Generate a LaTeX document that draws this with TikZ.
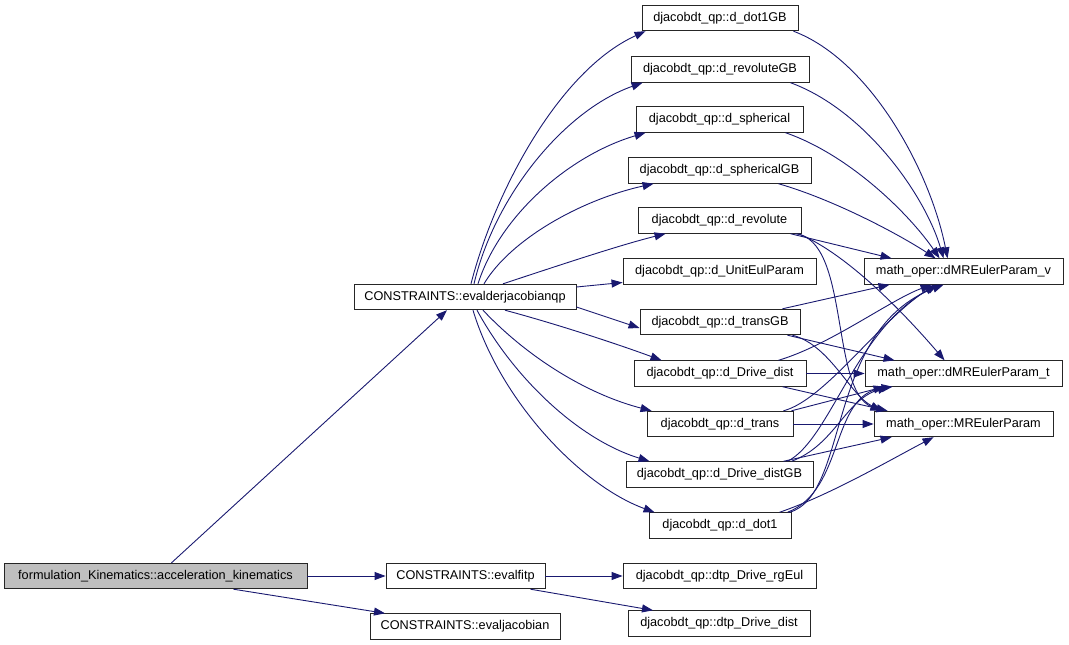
\documentclass[tikz,border=0pt]{standalone}
\usepackage{fontspec}
\setmainfont{Liberation Sans}
\usetikzlibrary{arrows.meta}
\definecolor{edgeblue}{HTML}{191970}
\definecolor{accgray}{HTML}{BFBFBF}
\tikzset{
  fn/.style={draw=black!85, line width=0.9pt, fill=white, inner sep=0pt,
    minimum height=25.5pt, font=\fontsize{12.7}{15}\selectfont},
  e/.style={draw=edgeblue, line width=0.9pt, -{Triangle[length=11pt,width=8pt]}}
}
\begin{document}
\begin{tikzpicture}[x=1pt,y=-1pt]
\useasboundingbox (0,0) rectangle (1069,645);
% nodes
\node[fn, fill=accgray, minimum width=303pt] (acc) at (155.5,576) {formulation\_Kinematics::acceleration\_kinematics};
\node[fn, minimum width=159pt] (evalfitp) at (465.5,576) {CONSTRAINTS::evalfitp};
\node[fn, minimum width=190pt] (evaljac) at (465,626.5) {CONSTRAINTS::evaljacobian};
\node[fn, minimum width=222pt] (evalder) at (465,297) {CONSTRAINTS::evalderjacobianqp};
\node[fn, minimum width=156pt] (dot1GB) at (720,18) {djacobdt\_qp::d\_dot1GB};
\node[fn, minimum width=178pt] (revGB) at (720,69.5) {djacobdt\_qp::d\_revoluteGB};
\node[fn, minimum width=167pt] (sph) at (719.5,119.5) {djacobdt\_qp::d\_spherical};
\node[fn, minimum width=183pt] (sphGB) at (719.5,170.5) {djacobdt\_qp::d\_sphericalGB};
\node[fn, minimum width=163pt] (rev) at (719.5,220.5) {djacobdt\_qp::d\_revolute};
\node[fn, minimum width=193pt] (unit) at (719.5,271.5) {djacobdt\_qp::d\_UnitEulParam};
\node[fn, minimum width=160pt] (transGB) at (720,322) {djacobdt\_qp::d\_transGB};
\node[fn, minimum width=172pt] (ddist) at (720,373.5) {djacobdt\_qp::d\_Drive\_dist};
\node[fn, minimum width=146pt] (trans) at (720,424) {djacobdt\_qp::d\_trans};
\node[fn, minimum width=187pt] (ddistGB) at (719.5,474.5) {djacobdt\_qp::d\_Drive\_distGB};
\node[fn, minimum width=142pt] (dot1) at (720,525.5) {djacobdt\_qp::d\_dot1};
\node[fn, minimum width=199pt] (dv) at (963.5,271.5) {math\_oper::dMREulerParam\_v};
\node[fn, minimum width=197pt] (dt) at (963.5,373.5) {math\_oper::dMREulerParam\_t};
\node[fn, minimum width=179pt] (mre) at (963.5,424) {math\_oper::MREulerParam};
\node[fn, minimum width=193pt] (rg) at (719.5,576) {djacobdt\_qp::dtp\_Drive\_rgEul};
\node[fn, minimum width=182pt] (dtpd) at (719,623.5) {djacobdt\_qp::dtp\_Drive\_dist};
% bottom edges
\draw[e] ([xshift=16pt]acc.north) -- ([xshift=-18pt]evalder.south);
\draw[e] (acc.east) -- (evalfitp.west);
\draw[e] ([xshift=78pt]acc.south) -- ([xshift=-80pt]evaljac.north);
\draw[e] (evalfitp.east) -- (rg.west);
\draw[e] ([xshift=65pt]evalfitp.south) -- ([xshift=-66pt]dtpd.north);
% evalderjacobianqp edges
\draw[e] ([xshift=6pt]evalder.north) .. controls (495,190) and (560,70) .. ([xshift=4pt]dot1GB.south west);
\draw[e] ([xshift=9pt]evalder.north) .. controls (495,195) and (565,110) .. ([xshift=12pt]revGB.south west);
\draw[e] ([xshift=13pt]evalder.north) .. controls (500,215) and (570,155) .. ([xshift=10pt]sph.south west);
\draw[e] ([xshift=19pt]evalder.north) .. controls (510,240) and (580,200) .. ([xshift=26pt]sphGB.south west);
\draw[e] ([xshift=38pt]evalder.north) .. controls (560,265) and (620,245) .. ([xshift=28pt]rev.south west);
\draw[e] ([yshift=10pt]evalder.east) -- ([yshift=-11pt]unit.west);
\draw[e] ([yshift=-10pt]evalder.east) -- ([yshift=-6pt]transGB.west);
\draw[e] ([xshift=40pt]evalder.south) .. controls (560,325) and (620,345) .. ([xshift=28pt]ddist.north west);
\draw[e] ([xshift=18pt]evalder.south) .. controls (530,360) and (590,395) .. ([xshift=5pt]trans.north west);
\draw[e] ([xshift=12pt]evalder.south) .. controls (515,380) and (580,440) .. ([xshift=24pt]ddistGB.north west);
\draw[e] ([xshift=8pt]evalder.south) .. controls (500,400) and (580,485) .. ([xshift=6pt]dot1.north west);
% upper group to dMREulerParam_v
\draw[e] ([xshift=-5pt]dot1GB.south east) .. controls (870,60) and (930,170) .. ([xshift=84pt]dv.north west);
\draw[e] ([xshift=-19pt]revGB.south east) .. controls (865,110) and (925,195) .. ([xshift=80pt]dv.north west);
\draw[e] ([xshift=-18pt]sph.south east) .. controls (850,155) and (910,215) .. ([xshift=76pt]dv.north west);
\draw[e] ([xshift=-33pt]sphGB.south east) .. controls (835,200) and (900,235) .. ([xshift=72pt]dv.north west);
% d_revolute
\draw[e] ([xshift=-11pt]rev.south east) -- ([xshift=28pt]dv.north west);
\draw[e] ([xshift=-3pt]rev.south east) .. controls (850,255) and (910,320) .. ([xshift=80pt]dt.north west);
\draw[e] ([xshift=-6pt]rev.south east) .. controls (850,240) and (830,390) .. ([xshift=8pt]mre.north west);
% d_transGB
\draw[e] ([xshift=-18pt]transGB.north east) -- ([xshift=26pt]dv.south west);
\draw[e] ([xshift=-13pt]transGB.south east) -- ([xshift=30pt]dt.north west);
\draw[e] ([xshift=-8pt]transGB.south east) .. controls (830,345) and (850,395) .. ([xshift=8pt]mre.north west);
% d_Drive_dist
\draw[e] (ddist.east) -- (dt.west);
\draw[e] ([xshift=-28pt]ddist.north east) .. controls (830,345) and (890,300) .. ([xshift=68pt]dv.south west);
\draw[e] ([xshift=-24pt]ddist.south east) -- ([xshift=14pt]mre.north west);
% d_trans
\draw[e] (trans.east) -- (mre.west);
\draw[e] ([xshift=-10pt]trans.north east) .. controls (825,400) and (880,320) .. ([xshift=72pt]dv.south west);
\draw[e] ([xshift=-2pt]trans.north east) -- ([xshift=20pt]dt.south west);
% d_Drive_distGB
\draw[e] ([xshift=-30pt]ddistGB.north east) -- ([xshift=18pt]mre.south west);
\draw[e] ([xshift=-26pt]ddistGB.north east) .. controls (830,440) and (855,330) .. ([xshift=74pt]dv.south west);
\draw[e] ([xshift=-22pt]ddistGB.north east) .. controls (835,445) and (845,400) .. ([xshift=24pt]dt.south west);
% d_dot1
\draw[e] ([xshift=-12pt]dot1.north east) .. controls (830,495) and (890,460) .. ([xshift=60pt]mre.south west);
\draw[e] ([xshift=-2pt]dot1.north east) .. controls (850,495) and (825,330) .. ([xshift=80pt]dv.south west);
\draw[e] ([xshift=-4pt]dot1.north east) .. controls (845,490) and (830,395) .. ([xshift=28pt]dt.south west);
\end{tikzpicture}
\end{document}
